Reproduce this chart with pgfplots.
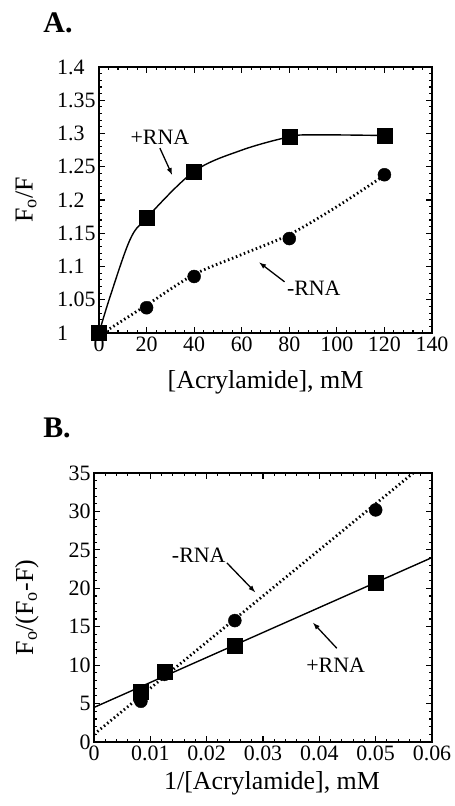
\documentclass[border=0pt]{standalone}
\usepackage{fontspec}
\setmainfont{Liberation Serif}
\usepackage{pgfplots}
\pgfplotsset{compat=1.18}

\pgfplotsset{
  panel/.style={
    scale only axis,
    axis line style={line width=1.3pt},
    tick align=inside,
    major tick length=6bp,
    minor tick length=3bp,
    every tick/.style={black, line width=1.1pt},
    tick label style={font=\fontsize{22}{24}\selectfont},
    label style={font=\fontsize{26}{29}\selectfont},
    /pgf/number format/assume math mode=true,
    /pgf/number format/fixed,
  },
  fitline/.style={black, line width=1.4pt, no marks},
  dotline/.style={black, line width=2.8pt, no marks, dash pattern=on 1.5pt off 2.8pt},
  sq/.style={only marks, mark=square*, mark size=7.5bp, black},
  ci/.style={only marks, mark=*, mark size=6.5bp, black},
}

\begin{document}
\begin{tikzpicture}[x=1bp,y=-1bp]
\path[use as bounding box] (0,0) rectangle (455,806);

% panel labels
\node[font=\fontsize{30}{32}\selectfont\bfseries] at (58,23) {A.};
\node[font=\fontsize{30}{32}\selectfont\bfseries] at (57,428) {B.};

% ---------- panel A ----------
\begin{axis}[panel,
  at={(99bp,-333bp)}, anchor=south west,
  width=333bp, height=266bp,
  xmin=0, xmax=140, ymin=1, ymax=1.4,
  xtick={0,20,...,140}, minor x tick num=4,
  ytick={1,1.05,1.1,1.15,1.2,1.25,1.3,1.35,1.4}, minor y tick num=4,
  % labels aligned on the decimal point, as in the original
  yticklabels={1\phantom{.00},1.05,1.1\phantom{0},1.15,1.2\phantom{0},1.25,1.3\phantom{0},1.35,1.4\phantom{0}},
  xlabel={[Acrylamide], mM},
  ylabel={F\textsubscript{o}/F},
  xlabel style={at={(axis description cs:0.5,0)}, anchor=center, yshift=-49bp},
  ylabel style={at={(axis description cs:0,0.5)}, anchor=center, yshift=73bp},
]
  % +RNA fit curve
  \addplot[fitline, smooth, tension=0.55] coordinates {
    (0,1.0) (4.6,1.054) (13,1.14) (20,1.173) (40,1.243) (60,1.275) (80,1.295) (90,1.298) (120,1.297)
  };
  % -RNA fit curve
  \addplot[dotline, smooth] coordinates {
    (3,1.003) (20,1.042) (40,1.088) (60,1.118) (80,1.148) (100,1.19) (120,1.237)
  };
  \addplot[ci] coordinates {
    (0,1.0) (20,1.038) (40,1.085) (80,1.142) (120,1.238)
  };
  \addplot[sq] coordinates {
    (0,1.0) (20,1.173) (40,1.243) (80,1.295) (120,1.297)
  };
  \node[font=\fontsize{22}{24}\selectfont] at (axis cs:25.6,1.295) {+RNA};
  \draw[-latex, line width=1.3pt] (axis cs:25.6,1.278) -- (axis cs:30.7,1.238);
  \node[font=\fontsize{22}{24}\selectfont] at (axis cs:90.3,1.068) {-RNA};
  \draw[-latex, line width=1.3pt] (axis cs:78,1.077) -- (axis cs:67.4,1.106);
\end{axis}

% ---------- panel B ----------
\begin{axis}[panel,
  at={(94bp,-742bp)}, anchor=south west,
  width=338bp, height=269bp,
  xmin=0, xmax=0.06, ymin=0, ymax=35,
  xtick={0,0.01,0.02,0.03,0.04,0.05,0.06}, minor x tick num=4,
  xticklabels={0,0.01,0.02,0.03,0.04,0.05,0.06},
  scaled x ticks=false,
  ytick={0,5,...,35}, minor y tick num=4,
  xlabel={1/[Acrylamide], mM},
  ylabel={F\textsubscript{o}/(F\textsubscript{o}-F)},
  xlabel style={at={(axis description cs:0.5,0)}, anchor=center, yshift=-41bp, xshift=9bp},
  ylabel style={at={(axis description cs:0,0.5)}, anchor=center, yshift=67bp},
]
  \addplot[fitline] coordinates {(0,4.5) (0.06,24)};
  \addplot[dotline] coordinates {(0,1.0) (0.06,37)};
  \addplot[ci] coordinates {
    (0.00833,5.3) (0.0125,8.8) (0.025,15.8) (0.05,30.2)
  };
  \addplot[sq] coordinates {
    (0.00833,6.6) (0.0125,9.2) (0.025,12.5) (0.05,20.7)
  };
  \node[font=\fontsize{22}{24}\selectfont] at (axis cs:0.0186,24.3) {-RNA};
  \draw[-latex, line width=1.3pt] (axis cs:0.0236,23.3) -- (axis cs:0.0286,19.5);
  \node[font=\fontsize{22}{24}\selectfont] at (axis cs:0.0429,10.0) {+RNA};
  \draw[-latex, line width=1.3pt] (axis cs:0.0431,12.2) -- (axis cs:0.0389,15.5);
\end{axis}
\end{tikzpicture}
\end{document}
